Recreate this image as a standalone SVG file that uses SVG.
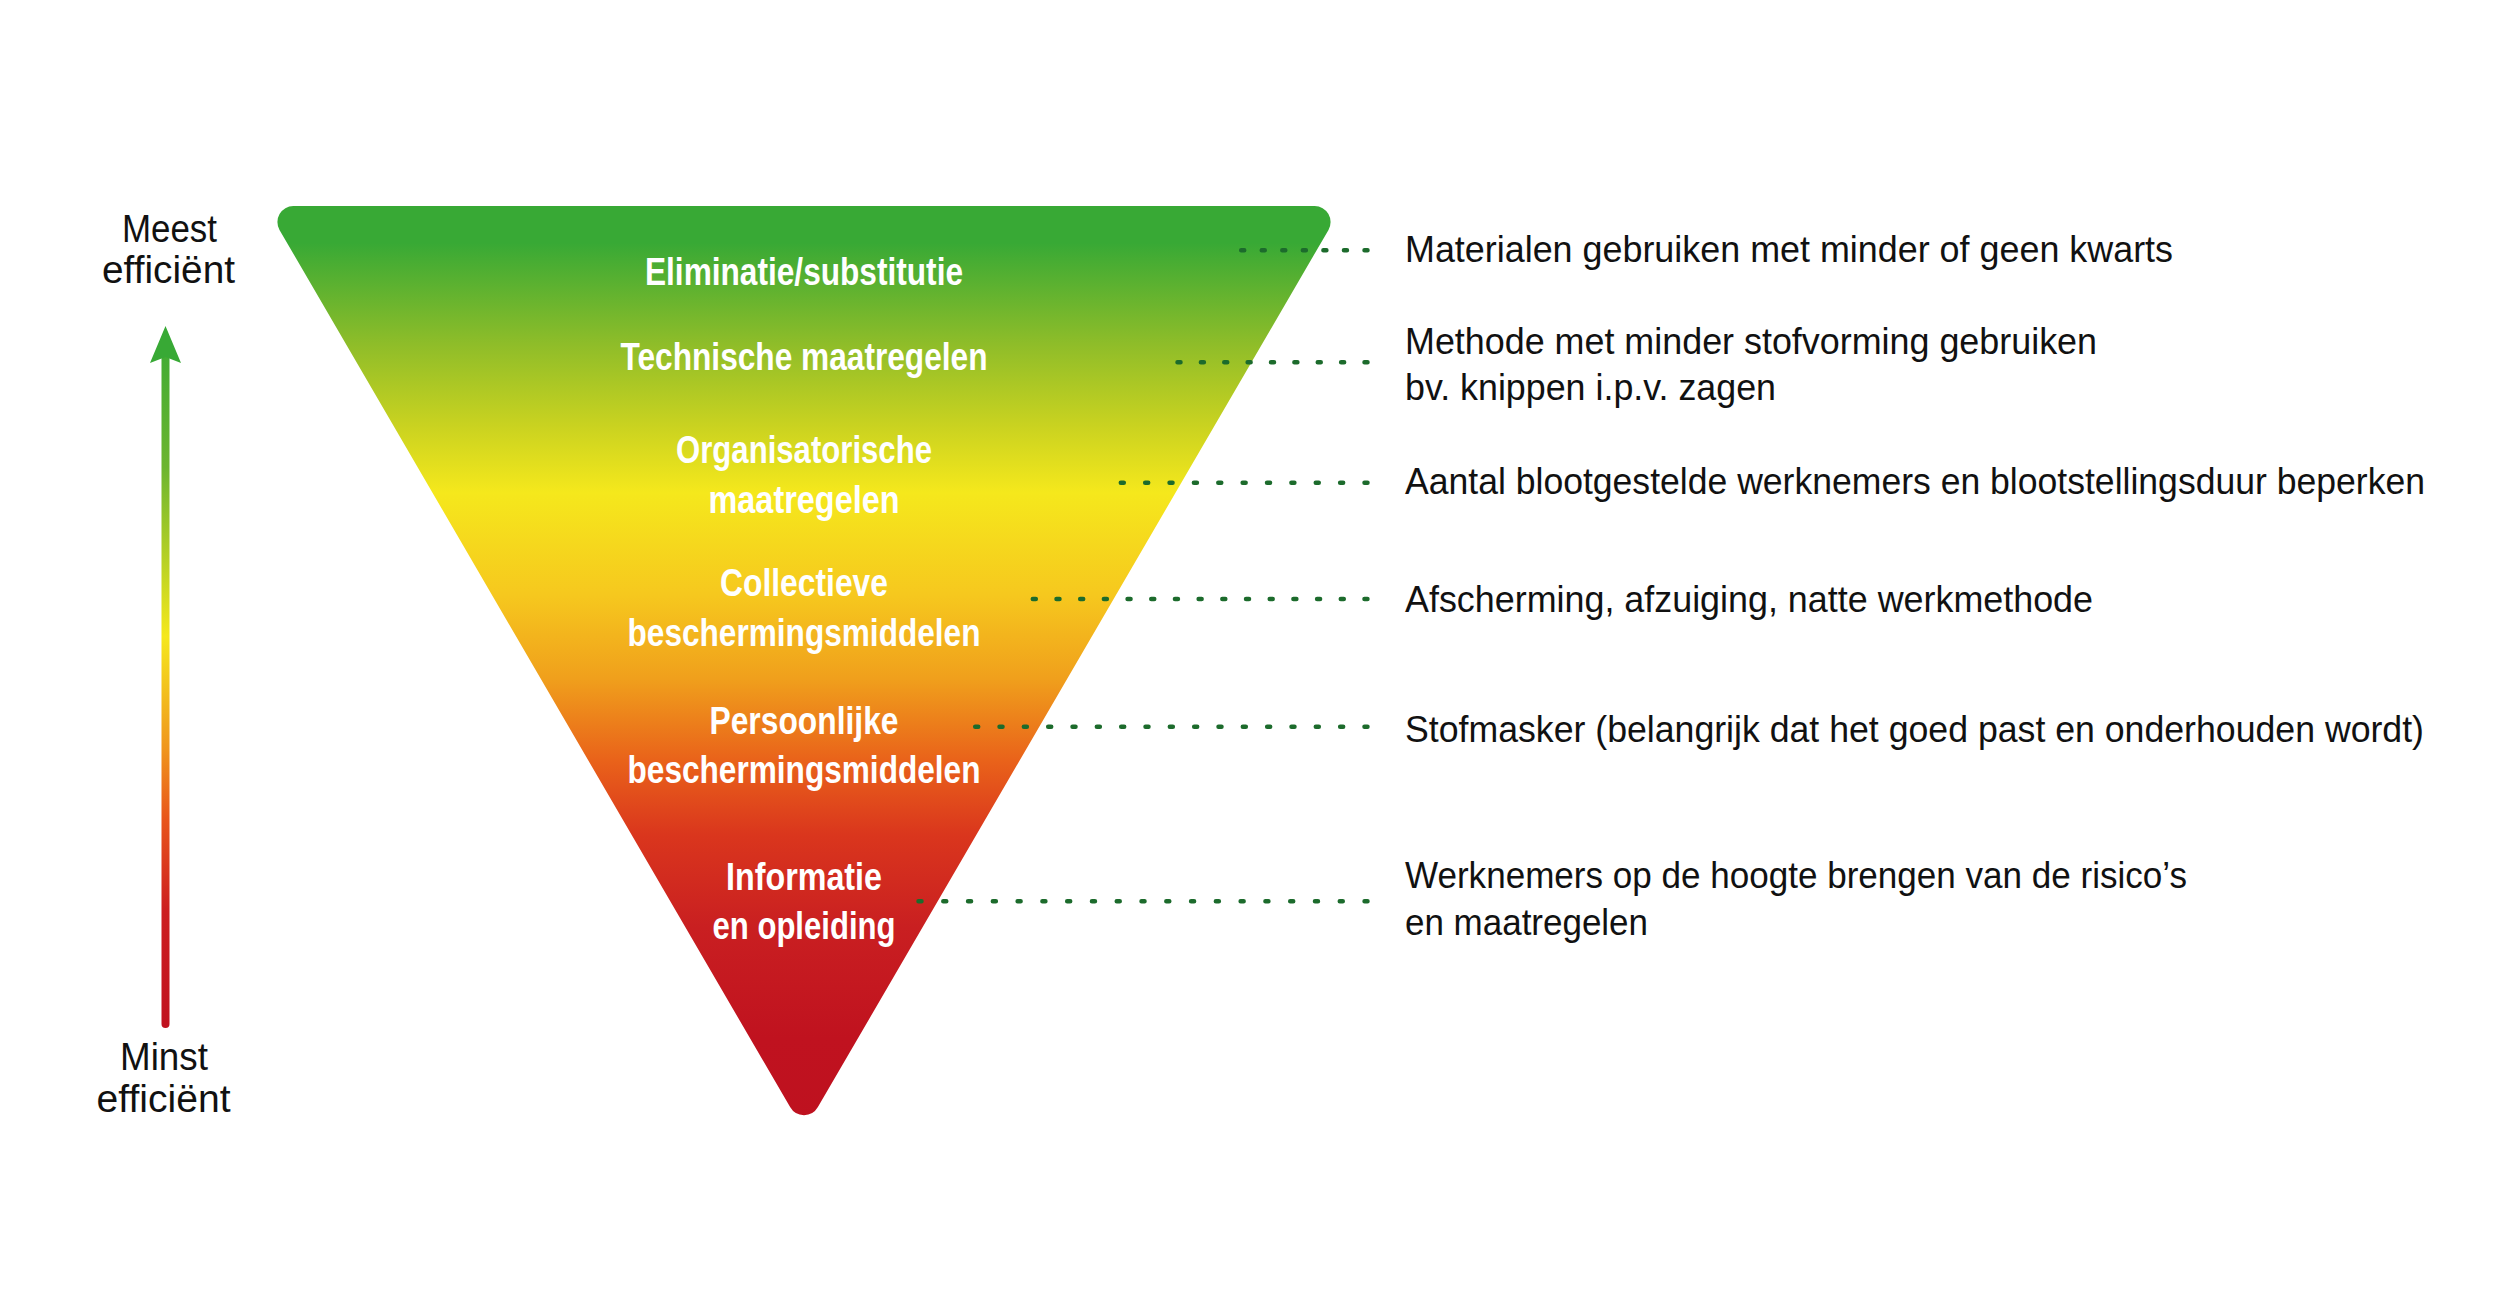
<svg xmlns="http://www.w3.org/2000/svg" width="2517" height="1300" viewBox="0 0 2517 1300">
  <defs>
    <linearGradient id="triGrad" gradientUnits="userSpaceOnUse" x1="0" y1="206" x2="0" y2="1131">
      <stop offset="0" stop-color="#38a935"/>
      <stop offset="0.04" stop-color="#38a935"/>
      <stop offset="0.15" stop-color="#8fbd29"/>
      <stop offset="0.24" stop-color="#cbd320"/>
      <stop offset="0.31" stop-color="#f5e81c"/>
      <stop offset="0.42" stop-color="#f6c81e"/>
      <stop offset="0.51" stop-color="#f0a01c"/>
      <stop offset="0.60" stop-color="#e9621a"/>
      <stop offset="0.68" stop-color="#da361d"/>
      <stop offset="0.78" stop-color="#c91f21"/>
      <stop offset="0.90" stop-color="#c0121f"/>
      <stop offset="1" stop-color="#be111f"/>
    </linearGradient>
    <linearGradient id="arrowGrad" gradientUnits="userSpaceOnUse" x1="0" y1="326" x2="0" y2="1032">
      <stop offset="0" stop-color="#38a935"/>
      <stop offset="0.2" stop-color="#6cb52f"/>
      <stop offset="0.44" stop-color="#f5e81c"/>
      <stop offset="0.6" stop-color="#f0951c"/>
      <stop offset="0.7" stop-color="#e8541b"/>
      <stop offset="0.83" stop-color="#cc1e20"/>
      <stop offset="1" stop-color="#c0111f"/>
    </linearGradient>
  </defs>
  <style>
    .lvl { font-family: "Liberation Sans", Arial, sans-serif; font-weight: bold; font-size: 39px; fill: #ffffff; text-anchor: middle; }
    .desc { font-family: "Liberation Sans", Arial, sans-serif; font-size: 37px; fill: #111111; }
    .side { font-family: "Liberation Sans", Arial, sans-serif; font-size: 38px; fill: #111111; text-anchor: middle; }
    .dots { stroke: #1c6b2c; stroke-width: 4.5; stroke-linecap: round; fill: none; }
  </style>

  <rect x="0" y="0" width="2517" height="1300" fill="#ffffff"/>

  <g id="pyramid">
    <path d="M293.3,206 L1314.7,206 A16,16 0 0 1 1328.5,229.9 L817.9,1107.1 A16,16 0 0 1 790.1,1107.1 L279.5,229.9 A16,16 0 0 1 293.3,206 Z" fill="url(#triGrad)"/>
  </g>

  <g id="efficiency-arrow">
    <line x1="165.5" y1="355" x2="165.5" y2="1024" stroke="url(#arrowGrad)" stroke-width="8" stroke-linecap="round"/>
    <path d="M165.5,326 L181,363 L165.5,357 L150,363 Z" fill="#38a935"/>
  </g>

  <g id="label-most">
    <text class="side" x="169.5" y="242" textLength="95" lengthAdjust="spacingAndGlyphs">Meest</text>
    <text class="side" x="168.5" y="283" textLength="133" lengthAdjust="spacingAndGlyphs">efficiënt</text>
  </g>
  <g id="label-least">
    <text class="side" x="164" y="1070" textLength="88" lengthAdjust="spacingAndGlyphs">Minst</text>
    <text class="side" x="163.5" y="1112" textLength="134" lengthAdjust="spacingAndGlyphs">efficiënt</text>
  </g>

  <g id="level-1">
    <text class="lvl" x="804" y="285" textLength="318" lengthAdjust="spacingAndGlyphs">Eliminatie/substitutie</text>
  </g>
  <g id="level-2">
    <text class="lvl" x="804" y="370" textLength="367" lengthAdjust="spacingAndGlyphs">Technische maatregelen</text>
  </g>
  <g id="level-3">
    <text class="lvl" x="804" y="463" textLength="256" lengthAdjust="spacingAndGlyphs">Organisatorische</text>
    <text class="lvl" x="804" y="513" textLength="191" lengthAdjust="spacingAndGlyphs">maatregelen</text>
  </g>
  <g id="level-4">
    <text class="lvl" x="804" y="596" textLength="168" lengthAdjust="spacingAndGlyphs">Collectieve</text>
    <text class="lvl" x="804" y="646" textLength="353" lengthAdjust="spacingAndGlyphs">beschermingsmiddelen</text>
  </g>
  <g id="level-5">
    <text class="lvl" x="804" y="734" textLength="189" lengthAdjust="spacingAndGlyphs">Persoonlijke</text>
    <text class="lvl" x="804" y="783" textLength="353" lengthAdjust="spacingAndGlyphs">beschermingsmiddelen</text>
  </g>
  <g id="level-6">
    <text class="lvl" x="804" y="890" textLength="156" lengthAdjust="spacingAndGlyphs">Informatie</text>
    <text class="lvl" x="804" y="939" textLength="183" lengthAdjust="spacingAndGlyphs">en opleiding</text>
  </g>

  <g id="connectors">
    <line class="dots" x1="1241.2" y1="250.3" x2="1367.5" y2="250.3" stroke-dasharray="3 17.55"/>
    <line class="dots" x1="1177.5" y1="362.3" x2="1367.5" y2="362.3" stroke-dasharray="3 20.375"/>
    <line class="dots" x1="1120.8" y1="482.7" x2="1367.5" y2="482.7" stroke-dasharray="3 21.37"/>
    <line class="dots" x1="1032.8" y1="599" x2="1367.5" y2="599" stroke-dasharray="3 20.69"/>
    <line class="dots" x1="975.2" y1="726.7" x2="1367.5" y2="726.7" stroke-dasharray="3 21.33"/>
    <line class="dots" x1="918.5" y1="901.3" x2="1367.5" y2="901.3" stroke-dasharray="3 21.78"/>
  </g>

  <g id="desc-1">
    <text class="desc" x="1405" y="262" textLength="768" lengthAdjust="spacingAndGlyphs">Materialen gebruiken met minder of geen kwarts</text>
  </g>
  <g id="desc-2">
    <text class="desc" x="1405" y="354" textLength="692" lengthAdjust="spacingAndGlyphs">Methode met minder stofvorming gebruiken</text>
    <text class="desc" x="1405" y="400" textLength="371" lengthAdjust="spacingAndGlyphs">bv. knippen i.p.v. zagen</text>
  </g>
  <g id="desc-3">
    <text class="desc" x="1405" y="493.5" textLength="1020" lengthAdjust="spacingAndGlyphs">Aantal blootgestelde werknemers en blootstellingsduur beperken</text>
  </g>
  <g id="desc-4">
    <text class="desc" x="1405" y="611.5" textLength="688" lengthAdjust="spacingAndGlyphs">Afscherming, afzuiging, natte werkmethode</text>
  </g>
  <g id="desc-5">
    <text class="desc" x="1405" y="741.5" textLength="1019" lengthAdjust="spacingAndGlyphs">Stofmasker (belangrijk dat het goed past en onderhouden wordt)</text>
  </g>
  <g id="desc-6">
    <text class="desc" x="1405" y="888" textLength="782" lengthAdjust="spacingAndGlyphs">Werknemers op de hoogte brengen van de risico’s</text>
    <text class="desc" x="1405" y="935" textLength="243" lengthAdjust="spacingAndGlyphs">en maatregelen</text>
  </g>
</svg>
